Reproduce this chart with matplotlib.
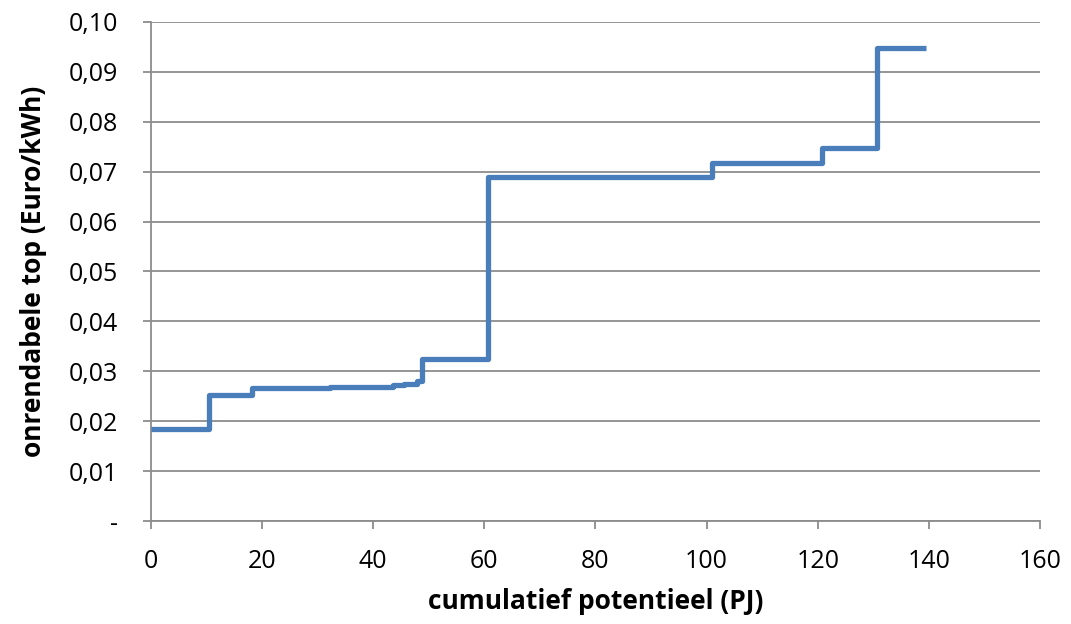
import numpy as np
import matplotlib.pyplot as plt

# step edges (PJ) and level (Euro/kWh) for each step
x_start = [0, 10.5, 18.1, 32.2, 43.6, 45.6, 47.8, 48.7, 60.7, 101.0, 120.8, 130.6]
x_end = 139.5
niveau = [0.0184, 0.0253, 0.0267, 0.0269, 0.0272, 0.0275, 0.0281, 0.0325,
          0.0690, 0.0717, 0.0748, 0.0948]

y_ticks = [0, 0.01, 0.02, 0.03, 0.04, 0.05, 0.06, 0.07, 0.08, 0.09, 0.10]
y_labels = ['-', '0,01', '0,02', '0,03', '0,04', '0,05', '0,06', '0,07', '0,08', '0,09', '0,10']
x_ticks = [0, 20, 40, 60, 80, 100, 120, 140, 160]

plt.rcParams['font.family'] = ['Open Sans', 'DejaVu Sans']

fig = plt.figure(figsize=(10.71, 6.24), dpi=100)
ax = fig.add_axes([0.141, 0.165, 0.830, 0.800])

xs = x_start + [x_end]
ys = niveau + [niveau[-1]]
ax.step(xs, ys, where='post', color='#4a7ebb', lw=3.8, solid_joinstyle='round', solid_capstyle='butt', zorder=3)

ax.set_xlim(0, 160)
ax.set_ylim(0, 0.10)
ax.set_yticks(y_ticks)
ax.set_yticklabels(y_labels)
ax.set_xticks(x_ticks)
ax.yaxis.grid(True, color='#8c8c8c', lw=1.3)
ax.set_axisbelow(True)
for s in ['top', 'right']:
    ax.spines[s].set_visible(False)
for s in ['left', 'bottom']:
    ax.spines[s].set_color('#8c8c8c')
    ax.spines[s].set_linewidth(1.3)
ax.tick_params(axis='both', direction='out', length=6, width=1.3, color='#8c8c8c',
               labelsize=18)
ax.tick_params(axis='y', pad=18)
ax.tick_params(axis='x', pad=14)

ax.set_xlabel('cumulatief potentieel (PJ)', fontsize=19, fontweight='bold')
ax.set_ylabel('onrendabele top (Euro/kWh)', fontsize=19, fontweight='bold')
ax.xaxis.set_label_coords(0.5, -0.135)
ax.yaxis.set_label_coords(-0.117, 0.5)

plt.savefig('out.png', dpi=100)
